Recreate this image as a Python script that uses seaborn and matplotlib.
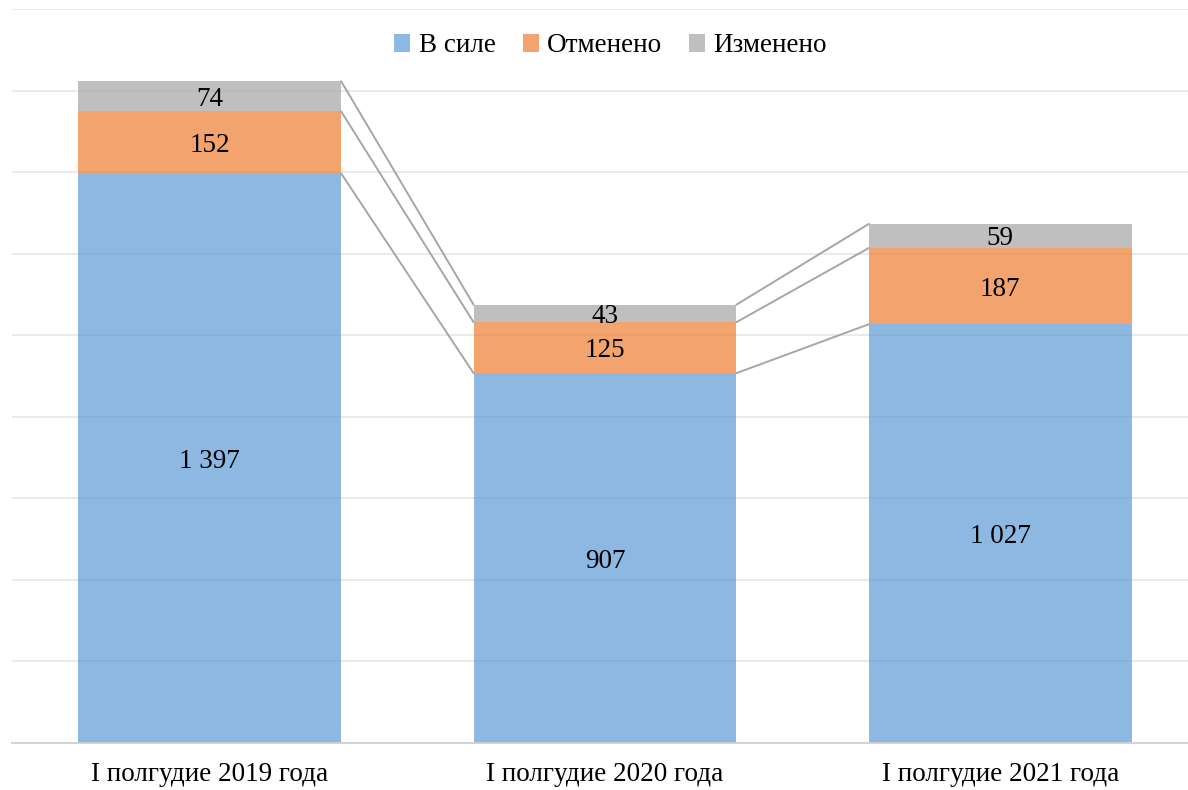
import numpy as np
import pandas as pd
import seaborn as sns
import matplotlib
matplotlib.use('Agg')
import matplotlib.pyplot as plt
from matplotlib.patches import Patch

# Data
periods = ['I полгудие 2019 года', 'I полгудие 2020 года', 'I полгудие 2021 года']
v_sile = [1397, 907, 1027]
otmeneno = [152, 125, 187]
izmeneno = [74, 43, 59]

series_names = ['В силе', 'Отменено', 'Изменено']
colors = ['#5B9BD5', '#ED7D31', '#A5A5A5']

sns.set_theme(style='white')
plt.rcParams['font.family'] = ['Liberation Serif', 'DejaVu Serif']

fig = plt.figure(figsize=(11.88, 7.9), dpi=100)
ax = fig.add_axes([12 / 1188, 47 / 790, 1186 / 1188, 734 / 790])

bar_w = 0.665
layers = [v_sile, otmeneno, izmeneno]
bottom = np.zeros(len(periods))
tops = []
for vals, col in zip(layers, colors):
    sns.barplot(x=periods, y=vals, bottom=bottom, color=col, alpha=0.7,
                width=bar_w, saturation=1, edgecolor='none', linewidth=0,
                ax=ax, zorder=2)
    for i, v in enumerate(vals):
        lab = f'{v:,}'.replace(',', ' ')
        ax.text(i, bottom[i] + v / 2, lab, ha='center', va='center_baseline',
                fontsize=19.5, color='black', zorder=4)
    bottom = bottom + np.array(vals)
    tops.append(bottom.copy())

# series lines between bars
for t in tops:
    for i in range(len(periods) - 1):
        ax.plot([i + bar_w / 2, i + 1 - bar_w / 2], [t[i], t[i + 1]],
                color='#A6A6A6', lw=1.4, zorder=3)

ax.set_ylim(0, 1800)
ax.set_xlim(-0.5, 2.5)
ax.set_yticks(np.arange(0, 1801, 200))
ax.yaxis.grid(True, color='#E8E8E8', lw=1.3)
ax.set_axisbelow(True)
ax.set_yticklabels([])
ax.tick_params(axis='y', length=0)
ax.tick_params(axis='x', length=0, labelsize=19.5, pad=14, colors='black')
for s in ['top', 'right', 'left']:
    ax.spines[s].set_visible(False)
ax.spines['bottom'].set_color('#D0D0D0')
ax.spines['bottom'].set_linewidth(1.3)
ax.set_xlabel('')
ax.set_ylabel('')

handles = [Patch(facecolor=c, alpha=0.7, edgecolor='none') for c in colors]
fig.legend(handles, series_names, loc='center', bbox_to_anchor=(0.514, 1 - 46 / 790),
           ncol=3, frameon=False, fontsize=19.5, handlelength=0.6, handleheight=0.6,
           handletextpad=0.3, columnspacing=1.0, labelcolor='black')

fig.savefig('out.png', dpi=100)
